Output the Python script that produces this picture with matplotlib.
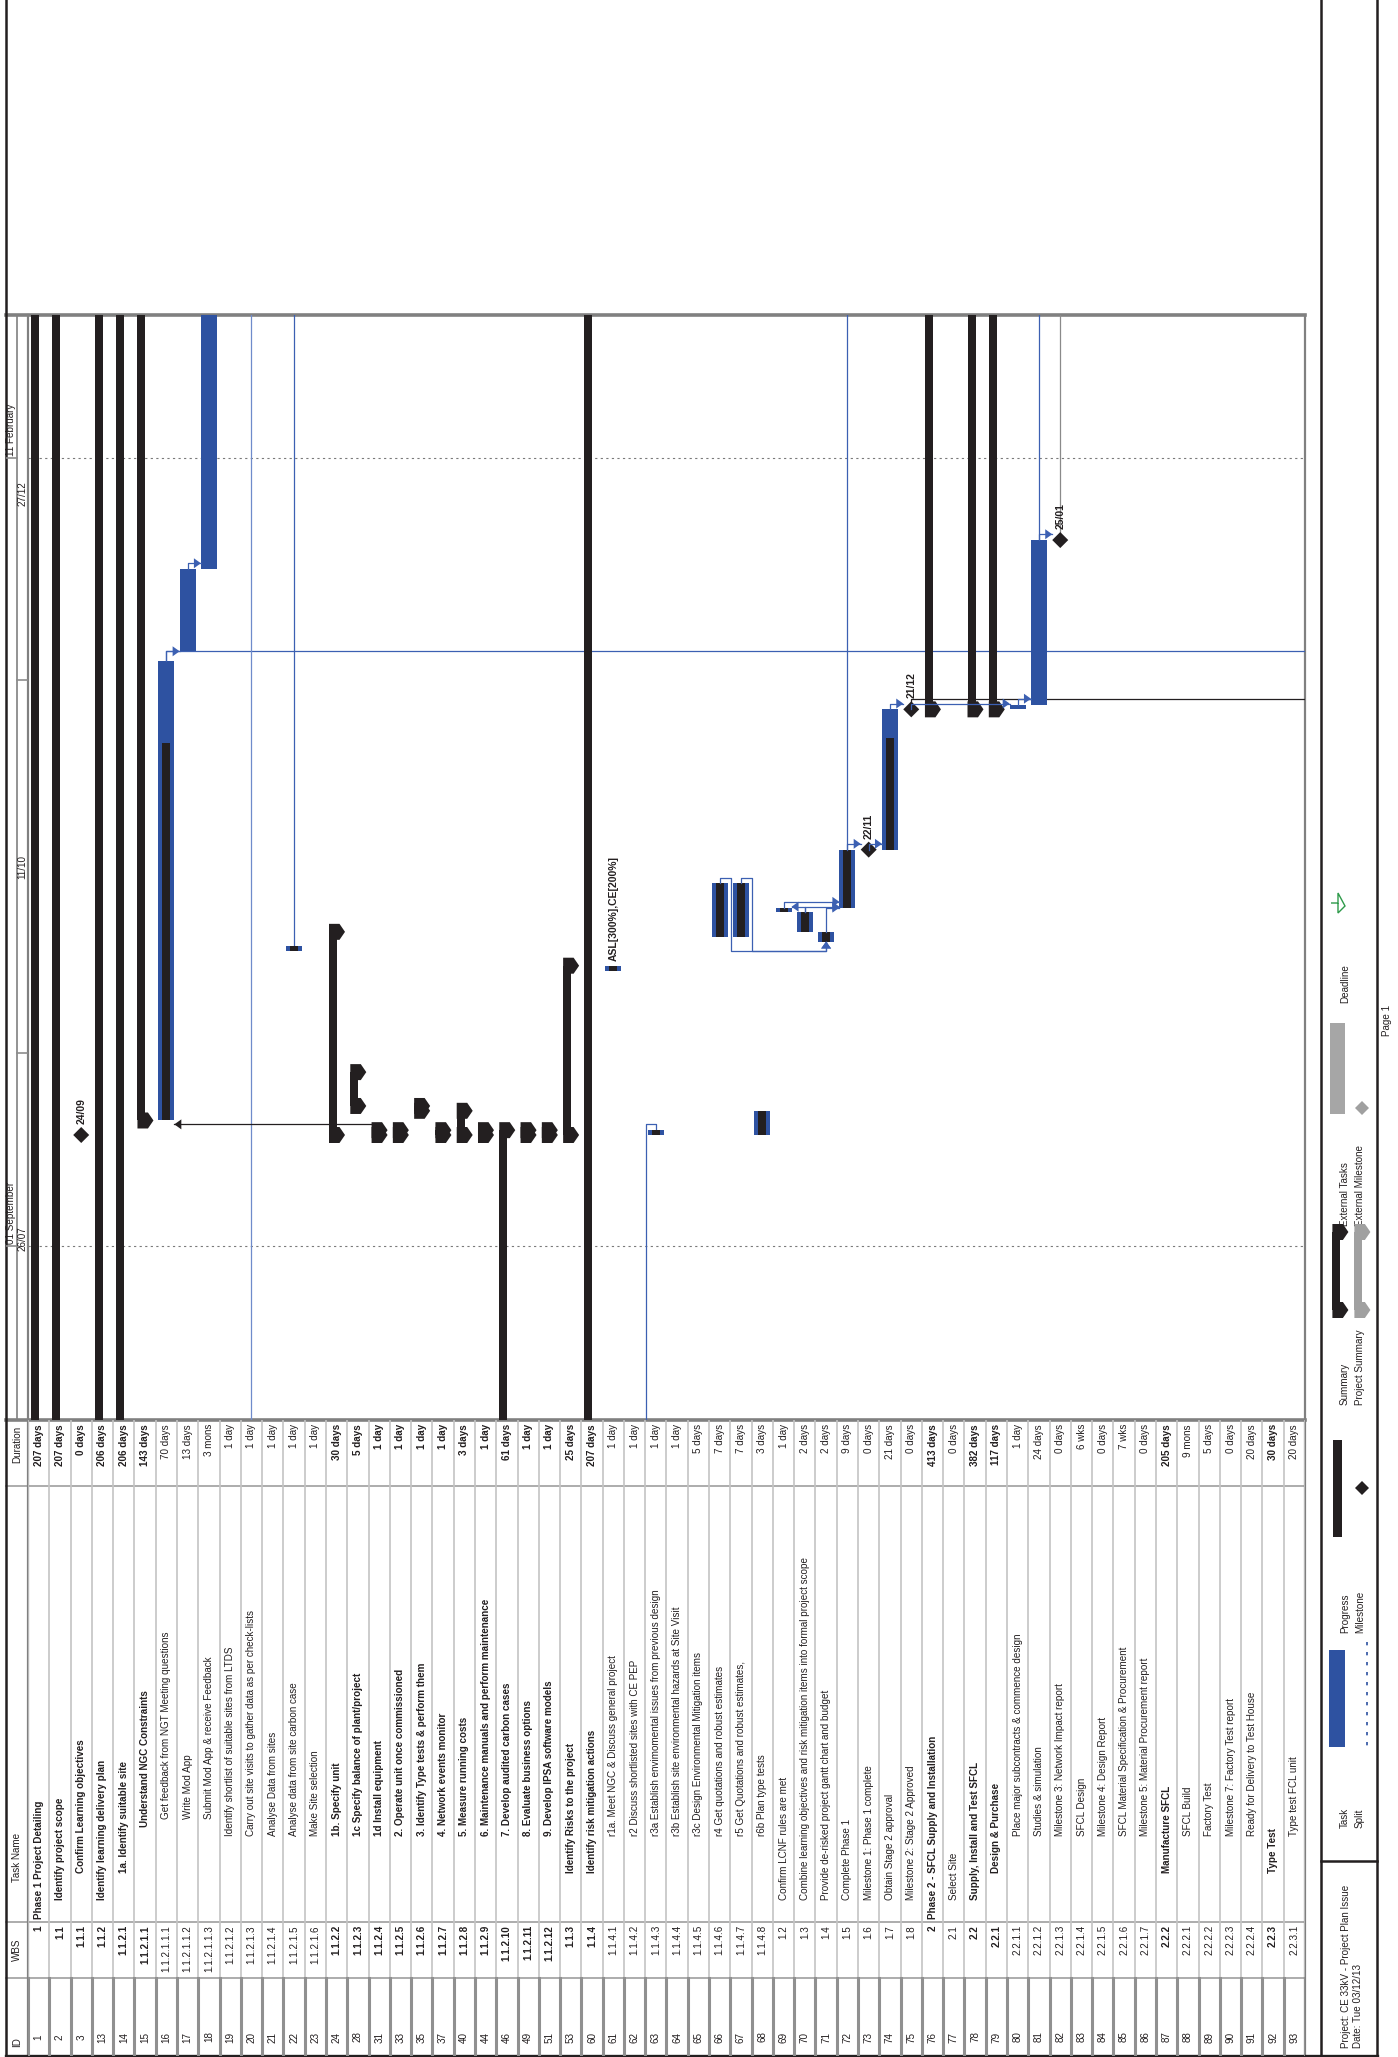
import matplotlib
matplotlib.use("Agg")
import matplotlib.pyplot as plt
import matplotlib.dates as mdates
from matplotlib import font_manager
from matplotlib.patches import Polygon, Rectangle

# the printout uses a narrow sans; fall back to a smaller regular sans when it is missing
try:
    font_manager.findfont(font_manager.FontProperties(family="Liberation Sans Narrow"),
                          fallback_to_default=False)
    FAMILY, FS = ["Liberation Sans Narrow", "DejaVu Sans"], 8.5
except ValueError:
    FAMILY, FS = ["Liberation Sans", "DejaVu Sans"], 7.1
plt.rcParams["font.family"] = FAMILY

W, H = 1398, 2057

# ---- schedule table -------------------------------------------------------
TASK_IDS = [1, 2, 3, 13, 14, 15, 16, 17, 18, 19, 20, 21, 22, 23, 24, 28, 31, 33, 35, 37,
            40, 44, 46, 49, 51, 53, 60, 61, 62, 63, 64, 65, 66, 67, 68, 69, 70, 71, 72, 73,
            74, 75, 76, 77, 78, 79, 80, 81, 82, 83, 84, 85, 86, 87, 88, 89, 90, 91, 92, 93]

WBS_CODES = ["1", "1.1", "1.1.1", "1.1.2", "1.1.2.1", "1.1.2.1.1", "1.1.2.1.1.1",
             "1.1.2.1.1.2", "1.1.2.1.1.3", "1.1.2.1.2", "1.1.2.1.3", "1.1.2.1.4",
             "1.1.2.1.5", "1.1.2.1.6", "1.1.2.2", "1.1.2.3", "1.1.2.4", "1.1.2.5",
             "1.1.2.6", "1.1.2.7", "1.1.2.8", "1.1.2.9", "1.1.2.10", "1.1.2.11",
             "1.1.2.12", "1.1.3", "1.1.4", "1.1.4.1", "1.1.4.2", "1.1.4.3", "1.1.4.4",
             "1.1.4.5", "1.1.4.6", "1.1.4.7", "1.1.4.8", "1.2", "1.3", "1.4", "1.5", "1.6",
             "1.7", "1.8", "2", "2.1", "2.2", "2.2.1", "2.2.1.1", "2.2.1.2", "2.2.1.3",
             "2.2.1.4", "2.2.1.5", "2.2.1.6", "2.2.1.7", "2.2.2", "2.2.2.1", "2.2.2.2",
             "2.2.2.3", "2.2.2.4", "2.2.3", "2.2.3.1"]

TASK_NAMES = [
    "Phase 1 Project Detailing",
    "Identify project scope",
    "Confirm Learning objectives",
    "Identify learning delivery plan",
    "1a. Identify suitable site",
    "Understand NGC Constraints",
    "Get feedback from NGT Meeting questions",
    "Write Mod App",
    "Submit Mod App & receive Feedback",
    "Identify shortlist of suitable sites from LTDS",
    "Carry out site visits to gather data as per check-lists",
    "Analyse Data from sites",
    "Analyse data from site carbon case",
    "Make Site selection",
    "1b. Specify unit",
    "1c Specify balance of plant/project",
    "1d Install equipment",
    "2. Operate unit once commissioned",
    "3. Identify Type tests & perform them",
    "4. Network events monitor",
    "5. Measure running costs",
    "6. Maintenance manuals and perform maintenance",
    "7. Develop audited carbon cases",
    "8. Evaluate business options",
    "9. Develop IPSA software models",
    "Identify Risks to the project",
    "Identify risk mitigation actions",
    "r1a. Meet NGC & Discuss general project",
    "r2 Discuss shortlisted sites with CE PEP",
    "r3a Establish envimomental issues from previous design",
    "r3b Establish site environmental hazards at Site Visit",
    "r3c Design Environmental Mitigation items",
    "r4 Get quotations and robust estimates",
    "r5 Get Quotations and robust estimates,",
    "r6b Plan type tests",
    "Confirm LCNF rules are met",
    "Combine learning objectives and risk mitigation items into formal project scope",
    "Provide de-risked project gantt chart and budget",
    "Complete Phase 1",
    "Milestone 1: Phase 1 complete",
    "Obtain Stage 2 approval",
    "Milestone 2: Stage 2 Approved",
    "Phase 2 - SFCL Supply and Installation",
    "Select Site",
    "Supply, Install and Test SFCL",
    "Design & Purchase",
    "Place major subcontracts & commence design",
    "Studies & simulation",
    "Milestone 3: Network Impact report",
    "SFCL Design",
    "Milestone 4: Design Report",
    "SFCL Material Specification & Procurement",
    "Milestone 5: Material Procurement report",
    "Manufacture SFCL",
    "SFCL Build",
    "Factory Test",
    "Milestone 7: Factory Test report",
    "Ready for Delivery to Test House",
    "Type Test",
    "Type test FCL unit",
]

DURATIONS = ["207 days", "207 days", "0 days", "206 days", "206 days", "143 days", "70 days",
             "13 days", "3 mons", "1 day", "1 day", "1 day", "1 day", "1 day", "30 days",
             "5 days", "1 day", "1 day", "1 day", "1 day", "3 days", "1 day", "61 days",
             "1 day", "1 day", "25 days", "207 days", "1 day", "1 day", "1 day", "1 day",
             "5 days", "7 days", "7 days", "3 days", "1 day", "2 days", "2 days", "9 days",
             "0 days", "21 days", "0 days", "413 days", "0 days", "382 days", "117 days",
             "1 day", "24 days", "0 days", "6 wks", "0 days", "7 wks", "0 days", "205 days",
             "9 mons", "5 days", "0 days", "20 days", "30 days", "20 days"]

# summary-level rows (printed bold)
IS_SUMMARY = [1, 1, 1, 1, 1, 1, 0, 0, 0, 0, 0, 0, 0, 0, 1, 1, 1, 1, 1, 1,
              1, 1, 1, 1, 1, 1, 1, 0, 0, 0, 0, 0, 0, 0, 0, 0, 0, 0, 0, 0,
              0, 0, 1, 0, 1, 1, 0, 0, 0, 0, 0, 0, 0, 1, 0, 0, 0, 0, 1, 0]

# indent level of the task name
OUTLINE = [0, 1, 2, 1, 2, 4, 5, 5, 5, 3, 3, 3, 3, 3, 3, 3, 3, 3, 3, 3,
           3, 3, 3, 3, 3, 2, 2, 3, 3, 3, 3, 3, 3, 3, 3, 1, 1, 1, 1, 1,
           1, 1, 0, 1, 1, 2, 3, 3, 3, 3, 3, 3, 3, 2, 3, 3, 3, 3, 2, 3]

# ---- gantt bars -----------------------------------------------------------
BAR_KIND = ["summary", "summary", "milestone", "summary", "summary", "summary", "task", "task",
            "task", None, None, None, "task", None, "summary", "summary", "summary", "summary",
            "summary", "summary", "summary", "summary", "summary", "summary", "summary",
            "summary", "summary", "task", None, "task", None, None, "task", "task", "task",
            "task", "task", "task", "task", "milestone", "task", "milestone", "summary", None,
            "summary", "summary", "task", "task", "milestone", None, None, None, None, None,
            None, None, None, None, None, None]

BAR_START = ["2013-06-27", "2013-06-27", "2013-09-24", "2013-06-28", "2013-06-28", "2013-09-27",
             "2013-09-27", "2014-01-02", "2014-01-19", None, None, None, "2013-11-01", None,
             "2013-09-24", "2013-09-30", "2013-09-24", "2013-09-24", "2013-09-29", "2013-09-24",
             "2013-09-24", "2013-09-24", "2013-07-01", "2013-09-24", "2013-09-24", "2013-09-24",
             "2013-06-27", "2013-10-28", None, "2013-09-24", None, None, "2013-11-04",
             "2013-11-04", "2013-09-24", "2013-11-09", "2013-11-05", "2013-11-03", "2013-11-10",
             "2013-11-22", "2013-11-22", "2013-12-21", "2013-12-21", None, "2013-12-21",
             "2013-12-21", "2013-12-21", "2013-12-22", "2014-01-25", None, None, None, None,
             None, None, None, None, None, None, None]

BAR_FINISH = ["2014-04-30", "2014-04-30", None, "2014-04-29", "2014-04-29", "2014-04-11",
              "2013-12-31", "2014-01-19", "2014-04-19", None, None, None, "2013-11-02", None,
              "2013-11-05", "2013-10-07", "2013-09-25", "2013-09-25", "2013-09-30", "2013-09-25",
              "2013-09-29", "2013-09-25", "2013-09-25", "2013-09-25", "2013-09-25", "2013-10-29",
              "2014-04-30", "2013-10-29", None, "2013-09-25", None, None, "2013-11-15",
              "2013-11-15", "2013-09-29", "2013-11-10", "2013-11-09", "2013-11-05", "2013-11-22",
              None, "2013-12-21", None, "2015-02-27", None, "2015-01-30", "2014-06-06",
              "2013-12-22", "2014-01-25", None, None, None, None, None, None, None, None, None,
              None, None, None]

# completed-work date for tasks with progress
DONE_TO = [None, None, None, None, None, None, "2013-12-14", None, None, None, None, None,
           "2013-11-02", None, None, None, None, None, None, None, None, None, None, None,
           None, None, None, "2013-10-29", None, "2013-09-25", None, None, "2013-11-15",
           "2013-11-15", "2013-09-29", "2013-11-10", "2013-11-09", "2013-11-05", "2013-11-22",
           None, "2013-12-15", None, None, None, None, None, None, None, None, None, None,
           None, None, None, None, None, None, None, None, None]

RESOURCE_NOTES = {27: "ASL[300%],CE[200%]"}

# predecessor -> successor (row positions)
LINKS = [(6, 7), (7, 8), (16, 6), (32, 37), (33, 37), (35, 38), (36, 38), (37, 38), (36, 35),
         (38, 39), (39, 40), (40, 41), (41, 46), (46, 47), (47, 48)]
LINKS_OFF_RIGHT = [6, 41]      # successors beyond the printed rows
LINKS_OFF_TOP = [12, 38, 47, 48]  # successors beyond the printed dates
LINKS_THROUGH = [10]
LINKS_FROM_BELOW = [29]

# ---- timescale ------------------------------------------------------------
TOP_TIER = ["2013-09-01", "2014-02-11"]
BOTTOM_TIER = ["2013-07-26", "2013-10-11", "2013-12-27", "2014-03-14"]

# page geometry (pixels)
ROW0, ROW1 = 28, 1305
GANTT_TOP, GANTT_BOT = 315, 1420
TABLE_BOT = 2056
COL_DUR, COL_WBS, COL_ID = 1486, 1922, 1978
N_ROWS = len(TASK_IDS)
PX_ROW = (ROW1 - ROW0) / N_ROWS
PX_DAY = 4.837
REF_DAY = mdates.datestr2num("2013-09-24")
REF_Y = 1135
Y_LO = REF_DAY - (GANTT_BOT - REF_Y) / PX_DAY
Y_HI = REF_DAY + (REF_Y - GANTT_TOP) / PX_DAY

BLUE = "#2E52A1"
LINK_BLUE = "#3C60B2"
INK = "#231F20"
GRID = "#8C8C8C"
LIGHT = "#C4C4C4"
INDENT_PX = {0: 3, 1: 22, 2: 49, 3: 86, 4: 95, 5: 103}


def rect(x0, y0, x1, y1):
    return [x0 / W, 1 - y1 / H, (x1 - x0) / W, (y1 - y0) / H]


def num(d):
    return mdates.datestr2num(d) if d else None


fig = plt.figure(figsize=(W / 100, H / 100), dpi=100)

page = fig.add_axes([0, 0, 1, 1])
page.set_xlim(0, W)
page.set_ylim(H, 0)
page.axis("off")

gantt = fig.add_axes(rect(ROW0, GANTT_TOP, ROW1, GANTT_BOT))
gantt.set_xlim(-0.5, N_ROWS - 0.5)
gantt.set_ylim(Y_LO, Y_HI)
gantt.axis("off")

table = fig.add_axes(rect(ROW0, GANTT_BOT, ROW1, TABLE_BOT))
table.set_xlim(-0.5, N_ROWS - 0.5)
table.set_ylim(TABLE_BOT, GANTT_BOT)
table.axis("off")

scale = fig.add_axes(rect(6, GANTT_TOP, ROW0, GANTT_BOT))
scale.set_xlim(0, ROW0 - 6)
scale.set_ylim(Y_LO, Y_HI)
scale.axis("off")

SX = 1 / PX_ROW   # rows per pixel
SY = 1 / PX_DAY   # days per pixel


def summary_shape(ax, xc, t0, t1, sx, sy, color, z=3):
    left, right, tip = xc - 7.6 * sx, xc + 0.4 * sx, xc + 8.4 * sx
    ax.add_patch(Rectangle((left, t0), right - left, t1 - t0, color=color, lw=0, zorder=z))
    h = 8 * sy
    for t in (t0, t1):
        ax.add_patch(Polygon([(left, t - h), (right + 2.5 * sx, t - h), (tip, t),
                              (right + 2.5 * sx, t + h), (left, t + h)],
                             closed=True, color=color, lw=0, zorder=z))


def diamond(ax, xc, t, sx, sy, color, z=4, r=8):
    ax.add_patch(Polygon([(xc - r * sx, t), (xc, t + r * sy), (xc + r * sx, t), (xc, t - r * sy)],
                         closed=True, color=color, lw=0, zorder=z))


def arrow_head(ax, tip, direction, color):
    x, y = tip
    L, B = 7, 5
    if direction == "right":
        pts = [(x, y), (x - L * SX, y + B * SY), (x - L * SX, y - B * SY)]
    elif direction == "left":
        pts = [(x, y), (x + L * SX, y + B * SY), (x + L * SX, y - B * SY)]
    else:  # up, towards later dates
        pts = [(x, y), (x - B * SX, y - L * SY), (x + B * SX, y - L * SY)]
    ax.add_patch(Polygon(pts, closed=True, color=color, lw=0, zorder=6))


# ---- bars ----
for i, kind in enumerate(BAR_KIND):
    if kind is None:
        continue
    t0 = num(BAR_START[i])
    if kind == "summary":
        summary_shape(gantt, i, t0, num(BAR_FINISH[i]), SX, SY, INK)
    elif kind == "task":
        t1 = num(BAR_FINISH[i])
        gantt.bar(i, t1 - t0, bottom=t0, width=16 * SX, color=BLUE, lw=0, zorder=3)
        if DONE_TO[i]:
            gantt.bar(i, num(DONE_TO[i]) - t0, bottom=t0, width=8 * SX, color=INK, lw=0, zorder=4)
    else:
        diamond(gantt, i, t0, SX, SY, INK)
        gantt.text(i, t0 + 11 * SY, mdates.num2date(t0).strftime("%d/%m"), rotation=90,
                   ha="center", va="bottom", fontsize=7.5, fontweight="bold", color=INK,
                   family=["Liberation Sans", "DejaVu Sans"])

for i, note in RESOURCE_NOTES.items():
    gantt.text(i, num(BAR_FINISH[i]) + 5 * SY, note, rotation=90, ha="center", va="bottom",
               fontsize=7.5, fontweight="bold", color=INK, family=["Liberation Sans", "DejaVu Sans"])


# ---- dependency links ----
def anchor_x(i):
    return i - 3.6 * SX if BAR_KIND[i] == "summary" else i


def end_date(i):
    return num(BAR_FINISH[i]) if BAR_FINISH[i] else num(BAR_START[i])


def edge(i, side):
    half = 8 * SX
    if BAR_KIND[i] == "summary":
        return i - 7.6 * SX if side < 0 else i + 0.4 * SX
    return i + side * half


for p, s in LINKS:
    color = INK if BAR_KIND[p] == "summary" else LINK_BLUE
    xp, tp, ts = anchor_x(p), end_date(p), num(BAR_START[s])
    if s > p and ts >= tp - 0.01:
        th = max(tp + 1.2, ts)
        xs = edge(s, -1)
        gantt.plot([xp, xp, xs], [tp, th, th], color=color, lw=0.9, zorder=5)
        arrow_head(gantt, (xs, th), "right", color)
    elif s > p:
        th, tb = tp + 1.2, ts - 2
        xj = xp + 11.5 * SX
        gantt.plot([xp, xp, xj, xj, s, s], [tp, th, th, tb, tb, ts], color=color, lw=0.9, zorder=5)
        arrow_head(gantt, (s, ts), "up", color)
    else:
        th = tp + 1.2
        xs = edge(s, 1)
        gantt.plot([xp, xp, xs], [tp, th, th], color=color, lw=0.9, zorder=5)
        arrow_head(gantt, (xs, th), "left", color)

for p in LINKS_OFF_RIGHT:
    color = INK if BAR_KIND[p] == "milestone" else LINK_BLUE
    tp = end_date(p)
    gantt.plot([p, p, N_ROWS - 0.5], [tp, tp + 2.1, tp + 2.1], color=color, lw=0.9, zorder=2)

for p in LINKS_OFF_TOP:
    color = "#8A8A8A" if BAR_KIND[p] == "milestone" else LINK_BLUE
    gantt.plot([p, p], [end_date(p), Y_HI], color=color, lw=0.9, zorder=2)

for p in LINKS_THROUGH:
    gantt.plot([p, p], [Y_LO, Y_HI], color="#6F8BCB", lw=0.9, zorder=2)

for s in LINKS_FROM_BELOW:
    xl, tf = s - 10 * SX, end_date(s)
    gantt.plot([xl, xl, s, s], [Y_LO, tf + 1.2, tf + 1.2, tf], color=LINK_BLUE, lw=0.9, zorder=2)

# ---- timescale ----
top_days = [num(d) for d in TOP_TIER]
bottom_days = [num(d) for d in BOTTOM_TIER]
for t in top_days:
    gantt.axhline(t, color="#7A7A7A", lw=0.8, ls=(0, (2, 3)), zorder=1)
    scale.plot([0, 11], [t, t], color=GRID, lw=1.2)
    scale.text(5.5, t + 2 * SY, mdates.num2date(t).strftime("%d %B"), rotation=90,
               ha="center", va="bottom", fontsize=FS, color=INK)
for t in bottom_days:
    scale.plot([11, 22], [t, t], color=GRID, lw=1.2)
for a, b in zip(bottom_days[:-1], bottom_days[1:]):
    scale.text(16.5, (a + b) / 2, mdates.num2date(a).strftime("%d/%m"), rotation=90,
               ha="center", va="center", fontsize=FS, color=INK)

# ---- table ----
for i in range(N_ROWS):
    wt = "bold" if IS_SUMMARY[i] else "normal"
    table.text(i, 1424, DURATIONS[i], rotation=90, ha="center", va="top", fontsize=FS,
               fontweight=wt, color=INK)
    table.text(i, COL_WBS - INDENT_PX[OUTLINE[i]], TASK_NAMES[i], rotation=90, ha="center",
               va="bottom", fontsize=FS, fontweight=wt, color=INK)
    table.text(i, COL_WBS + 3, WBS_CODES[i], rotation=90, ha="center", va="top", fontsize=FS,
               fontweight=wt, color=INK)
    table.text(i, 2037, str(TASK_IDS[i]), rotation=90, ha="center", va="center", fontsize=FS,
               color=INK)

for k in range(N_ROWS + 1):
    x = k - 0.5
    table.plot([x, x], [GANTT_BOT, COL_ID], color=LIGHT, lw=1.2, zorder=1)
    table.plot([x, x], [COL_ID, TABLE_BOT], color="#909090", lw=2.2, zorder=1)

for label, y in [("Duration", 1463), ("Task Name", 1882), ("WBS", 1961), ("ID", 2047)]:
    page.text(17, y, label, rotation=90, ha="center", va="bottom", fontsize=FS, color=INK)

# ---- frame lines ----
for y in (COL_DUR, COL_WBS, COL_ID):
    page.plot([6, ROW1], [y, y], color="#A6A6A6", lw=1.3)
page.plot([6, ROW1], [GANTT_TOP, GANTT_TOP], color="#808080", lw=2.6)
page.plot([6, ROW1], [GANTT_BOT, GANTT_BOT], color="#808080", lw=2.6)
page.plot([ROW1, ROW1], [GANTT_TOP, TABLE_BOT], color="#808080", lw=1.6)
page.plot([ROW0, ROW0], [GANTT_TOP, TABLE_BOT], color="#808080", lw=1.6)
page.plot([17, 17], [GANTT_TOP, GANTT_BOT], color="#808080", lw=1.2)
for x in (6, 1321, 1377):
    page.plot([x, x], [0, TABLE_BOT], color=INK, lw=1.8)
page.plot([6, 1377], [TABLE_BOT, TABLE_BOT], color=INK, lw=2.4)

# ---- legend and footer ----
page.plot([1321, 1377], [1861, 1861], color=INK, lw=1.8)
page.text(1346, 2048, "Project: CE 33kV - Project Plan Issue", rotation=90, ha="center",
          va="bottom", fontsize=FS, color=INK)
page.text(1358, 2048, "Date: Tue 03/12/13", rotation=90, ha="center", va="bottom",
          fontsize=FS, color=INK)

legend_rows = [
    ("Task", 1828, 1345), ("Split", 1828, 1360),
    ("Progress", 1633, 1345), ("Milestone", 1633, 1360),
    ("Summary", 1405, 1345), ("Project Summary", 1405, 1360),
    ("External Tasks", 1226, 1345), ("External Milestone", 1226, 1360),
    ("Deadline", 1003, 1345),
]
for label, y, x in legend_rows:
    page.text(x, y, label, rotation=90, ha="center", va="bottom", fontsize=FS, color=INK)

page.add_patch(Rectangle((1329, 1650), 16, 97, color=BLUE, lw=0))
page.plot([1367, 1367], [1642, 1747], color=BLUE, lw=1.2, ls=(0, (2, 4)))
page.add_patch(Rectangle((1333, 1440), 9, 97, color=INK, lw=0))
diamond(page, 1362, 1488, 1, -1, INK, r=7)
summary_shape(page, 1340, 1310, 1232, 1, -1, INK)
summary_shape(page, 1362, 1310, 1232, 1, -1, "#A0A0A0")
page.add_patch(Rectangle((1330, 1023), 15, 91, color="#A6A6A6", lw=0))
diamond(page, 1362, 1108, 1, -1, "#A0A0A0", r=7)
page.add_patch(Polygon([(1331, 903), (1338, 903), (1338, 893), (1345, 898 + 8), (1338, 913),
                        (1338, 903)], closed=False, fill=False, ec="#2E9A4A", lw=1.0))
page.text(1387, 1036, "Page 1", rotation=90, ha="center", va="bottom", fontsize=FS, color=INK)

fig.savefig("out.png", dpi=100)
